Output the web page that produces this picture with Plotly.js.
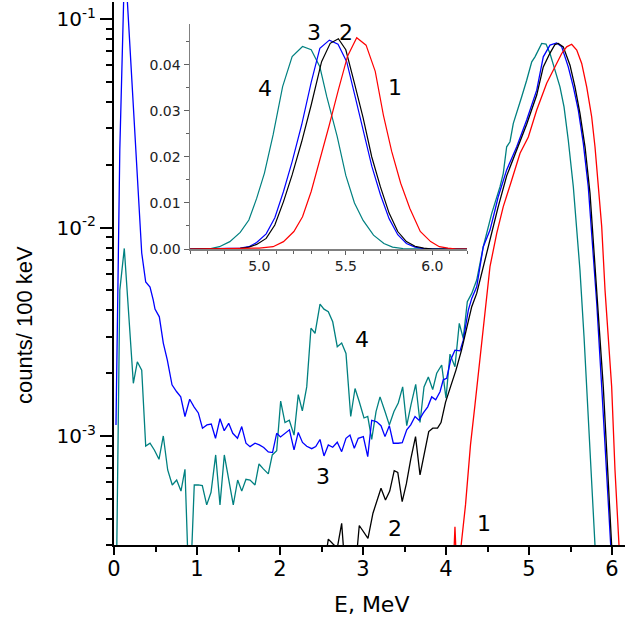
<!DOCTYPE html>
<html>
<head>
<meta charset="utf-8">
<script src="https://cdn.plot.ly/plotly-3.0.1.min.js"></script>
<style>
html,body{margin:0;padding:0;background:#fff;}
#chart{width:625px;height:618px;}
</style>
</head>
<body>
<div id="chart"></div>
<script>
// ---------- main spectrum (log scale), E in MeV ----------
// curve 1 (red)
var mainE1 = [4.072,4.108,4.145,4.163,4.235,4.295,4.349,4.410,4.470,4.530,4.611,4.690,4.792,4.892,4.992,5.093,5.213,5.313,5.394,5.454,5.514,5.575,5.635,5.695,5.755,5.795,5.835,5.876,5.916,5.955,5.996,6.036,6.088,6.133];
var mainV1 = [1.6e-4,3.67e-4,1.6e-4,2.54e-4,4.67e-4,9.06e-4,1.41e-3,2.32e-3,4.02e-3,6.49e-3,9.38e-3,1.26e-2,1.69e-2,2.27e-2,2.72e-2,3.66e-2,4.92e-2,5.90e-2,6.84e-2,7.36e-2,7.57e-2,7.10e-2,6.13e-2,4.73e-2,3.40e-2,2.44e-2,1.63e-2,1.01e-2,5.01e-3,3.0e-3,1.72e-3,6.87e-4,3.0e-4,1.3e-4];
// curve 2 (black)
var mainE2 = [2.506,2.582,2.639,2.690,2.743,2.795,2.843,2.895,2.955,3.004,3.060,3.120,3.181,3.217,3.271,3.322,3.376,3.419,3.472,3.522,3.576,3.633,3.687,3.735,3.792,3.841,3.898,3.940,3.994,4.058,4.120,4.187,4.249,4.310,4.370,4.410,4.482,4.554,4.627,4.731,4.852,4.972,5.093,5.172,5.253,5.313,5.353,5.413,5.494,5.554,5.614,5.675,5.735,5.775,5.816,5.895,5.948,5.996,6.048];
var mainV2 = [2.0e-4,3.20e-4,3.03e-4,2.9e-4,3.81e-4,2.0e-4,1.5e-4,2.0e-4,3.72e-4,3.50e-4,3.23e-4,4.26e-4,5.07e-4,5.61e-4,4.93e-4,5.44e-4,6.82e-4,6.69e-4,4.84e-4,5.89e-4,7.76e-4,9.93e-4,6.50e-4,8.26e-4,1.05e-3,1.09e-3,1.09e-3,1.16e-3,1.45e-3,1.74e-3,2.07e-3,2.58e-3,3.29e-3,4.17e-3,4.83e-3,5.60e-3,7.38e-3,9.42e-3,1.25e-2,1.77e-2,2.36e-2,3.13e-2,4.32e-2,5.90e-2,6.87e-2,7.55e-2,7.64e-2,7.36e-2,6.01e-2,4.73e-2,3.53e-2,2.44e-2,1.46e-2,8.71e-3,5.01e-3,1.72e-3,6.87e-4,3.0e-4,1.2e-4];
// curve 3 (blue)
var mainE3 = [0.024,0.070,0.130,0.293,0.334,0.382,0.434,0.473,0.494,0.546,0.594,0.642,0.699,0.755,0.804,0.855,0.912,0.964,1.016,1.066,1.120,1.172,1.223,1.277,1.328,1.382,1.431,1.488,1.539,1.590,1.639,1.699,1.751,1.804,1.859,1.910,1.960,2.006,2.060,2.114,2.169,2.220,2.271,2.322,2.382,2.431,2.482,2.530,2.582,2.635,2.690,2.743,2.795,2.843,2.895,2.943,3.004,3.057,3.105,3.165,3.217,3.265,3.317,3.365,3.425,3.473,3.527,3.575,3.627,3.675,3.727,3.780,3.828,3.876,3.928,3.967,4.008,4.057,4.108,4.169,4.208,4.269,4.310,4.370,4.449,4.530,4.590,4.630,4.731,4.852,4.972,5.093,5.172,5.253,5.334,5.394,5.473,5.534,5.594,5.654,5.714,5.755,5.816,5.876,5.936,5.984,6.036];
var mainV3 = [1.13e-3,2.36e-2,2.0e-1,1.355e-2,7.55e-3,5.48e-3,5.18e-3,4.49e-3,4.06e-3,3.73e-3,2.79e-3,2.32e-3,1.76e-3,1.63e-3,1.54e-3,1.24e-3,1.50e-3,1.38e-3,1.29e-3,1.09e-3,1.13e-3,1.14e-3,9.75e-4,1.21e-3,1.06e-3,1.15e-3,1.03e-3,9.75e-4,1.11e-3,9.23e-4,8.89e-4,9.23e-4,9.06e-4,8.81e-4,8.38e-4,8.33e-4,1.03e-3,9.89e-4,1.03e-3,1.07e-3,8.57e-4,1.04e-3,9.31e-4,8.93e-4,8.69e-4,8.89e-4,9.62e-4,8.02e-4,9.06e-4,8.83e-4,9.33e-4,8.41e-4,9.75e-4,1.01e-3,8.73e-4,9.75e-4,9.93e-4,7.96e-4,1.19e-3,1.17e-3,1.12e-3,9.93e-4,1.12e-3,9.23e-4,9.23e-4,9.29e-4,1.07e-3,1.13e-3,1.24e-3,1.19e-3,1.29e-3,1.38e-3,1.54e-3,1.49e-3,1.63e-3,1.86e-3,1.89e-3,2.32e-3,2.58e-3,2.56e-3,2.88e-3,4.02e-3,4.57e-3,5.20e-3,8.09e-3,9.72e-3,1.21e-2,1.41e-2,1.89e-2,2.44e-2,3.28e-2,4.56e-2,6.59e-2,7.50e-2,7.69e-2,7.36e-2,5.90e-2,4.73e-2,3.66e-2,2.54e-2,1.57e-2,9.38e-3,4.33e-3,1.72e-3,6.87e-4,3.0e-4,1.3e-4];
// curve 4 (teal)
var mainE4 = [0.020,0.070,0.124,0.233,0.281,0.334,0.382,0.434,0.486,0.542,0.594,0.647,0.702,0.755,0.807,0.855,0.910,0.967,1.016,1.064,1.117,1.169,1.225,1.277,1.329,1.386,1.437,1.490,1.539,1.590,1.639,1.699,1.747,1.799,1.859,1.907,1.960,2.008,2.060,2.112,2.169,2.220,2.269,2.322,2.373,2.422,2.482,2.530,2.582,2.635,2.690,2.743,2.795,2.852,2.904,2.955,3.012,3.057,3.105,3.157,3.205,3.265,3.317,3.373,3.425,3.478,3.527,3.578,3.635,3.687,3.735,3.787,3.840,3.888,3.948,4.000,4.048,4.108,4.160,4.208,4.257,4.310,4.370,4.449,4.551,4.651,4.690,4.731,4.771,4.811,4.852,4.912,4.972,5.033,5.072,5.112,5.153,5.205,5.253,5.313,5.373,5.422,5.473,5.534,5.575,5.614,5.663,5.714,5.755,5.795,5.843];
var mainV4 = [1.0e-4,5.01e-3,7.94e-3,1.79e-3,2.27e-3,2.07e-3,8.95e-4,9.23e-4,8.57e-4,7.73e-4,1.00e-3,6.87e-4,5.82e-4,6.15e-4,5.44e-4,6.92e-4,1.5e-4,5.82e-4,5.82e-4,5.78e-4,4.67e-4,5.37e-4,8.11e-4,4.67e-4,8.11e-4,6.04e-4,4.67e-4,6.15e-4,5.44e-4,6.20e-4,6.15e-4,5.82e-4,7.34e-4,6.95e-4,6.58e-4,8.11e-4,8.50e-4,1.47e-3,1.16e-3,1.19e-3,1.01e-3,1.58e-3,1.32e-3,1.72e-3,3.29e-3,3.11e-3,4.29e-3,4.06e-3,3.95e-3,3.53e-3,2.68e-3,2.79e-3,2.49e-3,1.24e-3,1.69e-3,1.46e-3,1.22e-3,1.24e-3,9.64e-4,1.31e-3,1.54e-3,1.31e-3,1.13e-3,1.31e-3,1.44e-3,1.72e-3,1.12e-3,1.41e-3,1.77e-3,1.16e-3,1.72e-3,1.92e-3,1.67e-3,2.00e-3,2.19e-3,1.52e-3,2.47e-3,2.15e-3,3.47e-3,2.94e-3,4.41e-3,4.83e-3,5.60e-3,8.09e-3,1.17e-2,1.57e-2,1.82e-2,2.44e-2,2.58e-2,3.16e-2,3.53e-2,4.24e-2,5.09e-2,6.24e-2,6.59e-2,7.10e-2,7.64e-2,7.59e-2,6.84e-2,5.69e-2,4.73e-2,3.79e-2,2.63e-2,1.57e-2,9.38e-3,6.25e-3,2.99e-3,1.19e-3,5.71e-4,3.0e-4,1.3e-4];

// ---------- inset (linear scale) ----------
var insE1 = [4.60,4.90,5.00,5.08,5.14,5.20,5.25,5.30,5.35,5.405,5.457,5.51,5.563,5.617,5.67,5.717,5.765,5.817,5.87,5.93,5.99,6.04,6.09,6.14,6.20];
var insV1 = [0,0.0001,0.0002,0.0005,0.0016,0.0038,0.007,0.0125,0.0193,0.027,0.0346,0.0419,0.0459,0.0443,0.0386,0.0291,0.0212,0.0143,0.0088,0.0038,0.0016,0.0005,0.0002,0,0];
var insE2 = [4.60,4.80,4.89,4.94,4.985,5.04,5.09,5.14,5.19,5.245,5.30,5.36,5.41,5.457,5.50,5.55,5.60,5.65,5.70,5.75,5.80,5.85,5.90,5.95,6.00,6.20];
var insV2 = [0,0.0001,0.00015,0.0004,0.0010,0.0023,0.0052,0.0103,0.0161,0.0233,0.0313,0.0407,0.0447,0.0457,0.0433,0.036,0.0285,0.020,0.0135,0.0078,0.0038,0.0016,0.0006,0.0002,0,0];
var insE3 = [4.60,4.80,4.89,4.94,4.985,5.04,5.09,5.14,5.19,5.245,5.30,5.35,5.405,5.455,5.505,5.55,5.60,5.65,5.70,5.75,5.80,5.85,5.90,5.95,6.00,6.20];
var insV3 = [0,0.0001,0.0002,0.0005,0.0014,0.0033,0.0068,0.0125,0.019,0.027,0.0362,0.0436,0.0454,0.0445,0.0407,0.0337,0.0258,0.018,0.0118,0.0066,0.0031,0.0012,0.0004,0.0001,0,0];
var insE4 = [4.60,4.72,4.77,4.83,4.89,4.94,4.985,5.03,5.08,5.135,5.19,5.25,5.30,5.35,5.39,5.45,5.50,5.55,5.60,5.66,5.72,5.77,5.83,6.20];
var insV4 = [0,0.0001,0.0005,0.0016,0.0036,0.0063,0.011,0.0165,0.0248,0.0353,0.0418,0.044,0.0433,0.0396,0.0331,0.0245,0.0160,0.0100,0.0062,0.0030,0.0012,0.0004,0.0001,0];

// ---------- tick labels and curve labels ----------
var yTickVals = [0.001, 0.01, 0.1];
var yTickText = ['10<sup>-3</sup>', '10<sup>-2</sup>', '10<sup>-1</sup>'];
var curveNames = ['1', '2', '3', '4'];
var curveColors = ['#ff0000', '#000000', '#0000ff', '#008080'];

var mainX = [mainE1, mainE2, mainE3, mainE4];
var mainY = [mainV1, mainV2, mainV3, mainV4];
var insX = [insE1, insE2, insE3, insE4];
var insY = [insV1, insV2, insV3, insV4];

var traces = [];
var order = [3, 2, 1, 0];
order.forEach(function (i) {
  traces.push({x: mainX[i], y: mainY[i], type: 'scatter', mode: 'lines',
    line: {color: curveColors[i], width: 1.3}, xaxis: 'x', yaxis: 'y', hoverinfo: 'skip'});
});
order.forEach(function (i) {
  traces.push({x: insX[i], y: insY[i], type: 'scatter', mode: 'lines',
    line: {color: curveColors[i], width: 1.2}, xaxis: 'x2', yaxis: 'y2', hoverinfo: 'skip'});
});

var PW = 511, PH = 543, L = 114, T = 2;
function px(X) { return (X - L) / PW; }
function py(Y) { return (T + PH - Y) / PH; }

var labFont = {family: 'DejaVu Sans, Arial, sans-serif', size: 22, color: '#000'};
function lab(t, X, Y, f, extra) {
  var a = {text: t, x: px(X), y: py(Y), xref: 'paper', yref: 'paper', showarrow: false,
    xanchor: 'center', yanchor: 'middle', font: f || labFont};
  if (extra) { for (var k in extra) a[k] = extra[k]; }
  return a;
}
var annotations = [
  lab(curveNames[3], 362, 339),
  lab(curveNames[2], 323, 476),
  lab(curveNames[1], 395, 528),
  lab(curveNames[0], 484, 523),
  // inset labels
  lab(curveNames[2], 314, 33),
  lab(curveNames[1], 346, 33),
  lab(curveNames[3], 265, 88),
  lab(curveNames[0], 395, 87),
  // axis titles
  lab('E, MeV', 371, 604, {family: 'DejaVu Sans, Arial, sans-serif', size: 22, color: '#000'}),
  lab('counts/ 100 keV', 25, 325, {family: 'Liberation Sans, Arial, sans-serif', size: 22, color: '#000'}, {textangle: -90})
];

var layout = {
  width: 625, height: 618,
  margin: {l: L, r: 0, t: T, b: 618 - T - PH},
  paper_bgcolor: '#fff', plot_bgcolor: 'rgba(0,0,0,0)',
  showlegend: false,
  xaxis: {
    range: [0, (625 - L) / 83], showgrid: false, zeroline: false,
    showline: true, linecolor: '#000', linewidth: 2,
    ticks: 'outside', ticklen: 8, tickwidth: 2, tickcolor: '#000', dtick: 1, tick0: 0,
    ticklabelstandoff: -4,
    minor: {dtick: 0.5, ticks: 'outside', ticklen: 5, tickwidth: 2, tickcolor: '#000', showgrid: false},
    tickfont: {family: 'DejaVu Sans, Arial, sans-serif', size: 21, color: '#000'},
    anchor: 'y'
  },
  xaxis3: {
    range: [0, (625 - L) / 83], overlaying: 'x', side: 'top', anchor: 'y',
    showgrid: false, zeroline: false, showline: true, linecolor: '#000', linewidth: 2,
    ticks: 'inside', ticklen: 4, tickwidth: 1.5, tickcolor: '#000', dtick: 0.5, tick0: 0,
    showticklabels: false
  },
  yaxis: {
    type: 'log', range: [-3.523, -0.918], showgrid: false, zeroline: false,
    showline: true, linecolor: '#000', linewidth: 2,
    ticks: 'outside', ticklen: 12, tickwidth: 2, tickcolor: '#000',
    tickvals: yTickVals, ticktext: yTickText,
    minor: {dtick: 'D1', ticks: 'outside', ticklen: 6, tickwidth: 2, tickcolor: '#000', showgrid: false},
    tickfont: {family: 'DejaVu Sans, Arial, sans-serif', size: 20, color: '#000'},
    anchor: 'x'
  },
  xaxis2: {
    domain: [px(190), px(467)], anchor: 'y2', range: [4.6, 6.2],
    showgrid: false, zeroline: false, showline: true, linecolor: '#808080', linewidth: 1.5,
    ticks: 'outside', ticklen: 4, tickwidth: 1, tickcolor: '#606060', dtick: 0.5, tick0: 5.0,
    tickformat: '.1f',
    minor: {dtick: 0.1, ticks: 'outside', ticklen: 3, tickwidth: 1, tickcolor: '#606060', showgrid: false},
    tickfont: {family: 'DejaVu Sans, Arial, sans-serif', size: 14, color: '#222'}
  },
  yaxis2: {
    domain: [py(249), py(24)], anchor: 'x2', range: [0, 0.0489],
    showgrid: false, zeroline: false, showline: true, linecolor: '#808080', linewidth: 1.5,
    ticks: 'outside', ticklen: 5, tickwidth: 1, tickcolor: '#606060', dtick: 0.01, tick0: 0,
    tickformat: '.2f',
    minor: {dtick: 0.005, ticks: 'outside', ticklen: 3, tickwidth: 1, tickcolor: '#606060', showgrid: false},
    tickfont: {family: 'DejaVu Sans, Arial, sans-serif', size: 14, color: '#222'}
  },
  annotations: annotations
};

Plotly.newPlot('chart', traces, layout, {displayModeBar: false, staticPlot: true});
</script>
</body>
</html>
